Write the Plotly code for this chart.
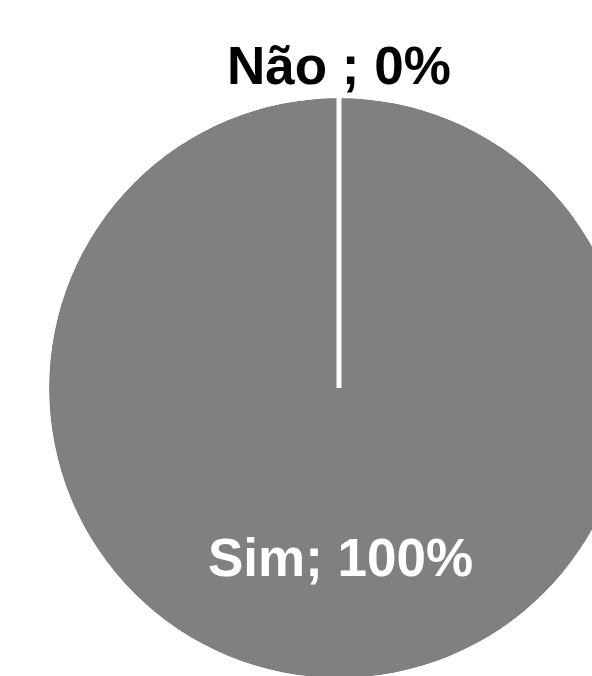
import plotly.graph_objects as go

labels = ["Não ", "Sim"]
values = [0, 100]
colors = ["#808080", "#808080"]

W, H = 700, 800
cx, cy, r = 339, 388, 290

total = sum(values)
pct = [f"{round(v / total * 100)}%" for v in values]
widths = [v / total * 360 for v in values]
starts = [sum(widths[:i]) for i in range(len(widths))]
mids = [s + w / 2 for s, w in zip(starts, widths)]

dom = dict(x=[(cx - r) / W, (cx + r) / W], y=[1 - (cy + r) / H, 1 - (cy - r) / H])

fig = go.Figure()
fig.add_trace(go.Barpolar(
    r=[1] * len(values), theta=mids, width=widths,
    marker=dict(color=colors, line=dict(width=0)),
    text=labels, hovertemplate="%{text}<extra></extra>", showlegend=False,
))

# boundary lines of zero-size slices (as drawn by the original chart)
for v, s in zip(values, starts):
    if v == 0:
        fig.add_trace(go.Scatterpolar(
            r=[0, 1], theta=[s, s], mode="lines",
            line=dict(color="white", width=5), hoverinfo="skip", showlegend=False,
        ))

fig.update_layout(polar=dict(
    domain=dom,
    bgcolor="rgba(0,0,0,0)",
    bargap=0,
    angularaxis=dict(rotation=90, direction="clockwise", visible=False, showgrid=False,
                     showline=False, ticks=""),
    radialaxis=dict(range=[0, 1], visible=False, showgrid=False, showline=False),
))

font_family = "Liberation Sans, Arial, sans-serif"
fig.add_annotation(
    x=cx / W, y=1 - 65 / H, xref="paper", yref="paper",
    text=f"<b>{labels[0]}; {pct[0]}</b>", showarrow=False,
    font=dict(family=font_family, size=53, color="black"),
    xanchor="center", yanchor="middle",
)
fig.add_annotation(
    x=(cx + 1) / W, y=1 - 557 / H, xref="paper", yref="paper",
    text=f"<b>{labels[1]}; {pct[1]}</b>", showarrow=False,
    font=dict(family=font_family, size=53, color="white"),
    xanchor="center", yanchor="middle",
)

fig.update_layout(
    width=W, height=H,
    margin=dict(l=0, r=0, t=0, b=0),
    paper_bgcolor="white",
    plot_bgcolor="white",
)

fig.write_html(
    "out.html",
    post_script="document.documentElement.style.overflow='hidden';document.body.style.overflow='hidden';document.body.style.margin='0';",
)
